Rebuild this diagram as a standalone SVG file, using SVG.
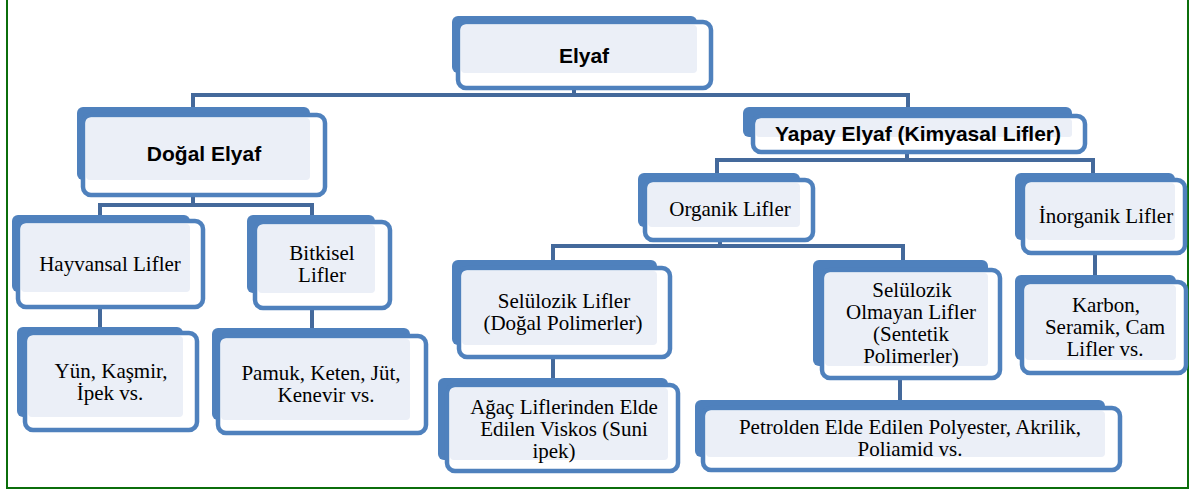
<svg xmlns="http://www.w3.org/2000/svg" width="1194" height="492" viewBox="0 0 1194 492">
<style>
.bk{fill:#4F81BD}
.fr{fill:#FFFFFF;stroke:#4F81BD;stroke-width:4.5}
.lt{fill:#EBEFF7}
.c{fill:none;stroke:#44699B;stroke-width:4}
.b{font-family:"Liberation Sans",Arial,sans-serif;font-weight:bold;font-size:21px;fill:#000;text-anchor:middle}
.s{font-family:"Liberation Serif","Times New Roman",serif;font-size:21px;fill:#000;text-anchor:middle}
</style>
<rect width="1194" height="492" fill="#FFFFFF"/>
<path d="M7,-2 V488 H1188 V-2" fill="none" stroke="#0B6E0B" stroke-width="2"/>
<g id="connectors">
<path class="c" d="M574,88 V95 M193,95 H908 M193,93 V107 M908,93 V107"/>
<path class="c" d="M193,195 V205 M100,205 H312 M100,203 V215 M312,203 V215"/>
<path class="c" d="M100,307 V327 M312,308 V328"/>
<path class="c" d="M907,152 V160 M717,160 H1093 M717,158 V173 M1093,158 V173"/>
<path class="c" d="M720,240 V246 M553,246 H903 M553,244 V260 M903,244 V260"/>
<path class="c" d="M553,357 V378 M900,378 V400 M1095,253 V275"/>
</g>
<g id="elyaf">
<rect class="bk" x="452" y="16" width="245" height="57" rx="6"/>
<rect class="fr" x="458" y="22" width="253" height="66" rx="8"/>
<rect class="lt" x="461" y="25" width="236" height="48" rx="4"/>
<text class="b" x="584" y="63">Elyaf</text>
</g>
<g id="dogal">
<rect class="bk" x="77" y="107" width="233" height="73" rx="6"/>
<rect class="fr" x="83" y="115" width="242" height="80" rx="8"/>
<rect class="lt" x="86" y="118" width="224" height="62" rx="4"/>
<text class="b" x="204" y="161">Doğal Elyaf</text>
</g>
<g id="hayvansal">
<rect class="bk" x="12" y="215" width="178" height="77" rx="6"/>
<rect class="fr" x="18" y="221" width="185" height="86" rx="8"/>
<rect class="lt" x="21" y="224" width="169" height="68" rx="4"/>
<text class="s" x="110" y="271">Hayvansal Lifler</text>
</g>
<g id="bitkisel">
<rect class="bk" x="247" y="215" width="128" height="78" rx="6"/>
<rect class="fr" x="255" y="222" width="135" height="86" rx="8"/>
<rect class="lt" x="258" y="225" width="117" height="68" rx="4"/>
<text class="s" x="322" y="260">Bitkisel</text>
<text class="s" x="322" y="282">Lifler</text>
</g>
<g id="yun">
<rect class="bk" x="17" y="327" width="166" height="90" rx="6"/>
<rect class="fr" x="25" y="333" width="172" height="97" rx="8"/>
<rect class="lt" x="28" y="336" width="155" height="81" rx="4"/>
<text class="s" x="111" y="378">Yün,  Kaşmir,</text>
<text class="s" x="110" y="400">İpek vs.</text>
</g>
<g id="pamuk">
<rect class="bk" x="212" y="328" width="198" height="92" rx="6"/>
<rect class="fr" x="218" y="336" width="208" height="97" rx="8"/>
<rect class="lt" x="221" y="339" width="189" height="81" rx="4"/>
<text class="s" x="321" y="380">Pamuk,  Keten, Jüt,</text>
<text class="s" x="326" y="402">Kenevir vs.</text>
</g>
<g id="yapay">
<rect class="bk" x="743" y="107" width="329" height="30" rx="6"/>
<rect class="fr" x="753" y="116" width="332" height="36" rx="8"/>
<rect class="lt" x="756" y="119" width="316" height="18" rx="3"/>
<text class="b" x="918" y="141">Yapay Elyaf (Kimyasal Lifler)</text>
</g>
<g id="organik">
<rect class="bk" x="638" y="173" width="162" height="54" rx="6"/>
<rect class="fr" x="645" y="180" width="168" height="60" rx="8"/>
<rect class="lt" x="648" y="183" width="152" height="44" rx="4"/>
<text class="s" x="730" y="216">Organik Lifler</text>
</g>
<g id="inorganik">
<rect class="bk" x="1015" y="173" width="160" height="67" rx="6"/>
<rect class="fr" x="1023" y="180" width="162" height="73" rx="8"/>
<rect class="lt" x="1026" y="183" width="149" height="57" rx="4"/>
<text class="s" x="1106" y="223">İnorganik Lifler</text>
</g>
<g id="selulozik">
<rect class="bk" x="452" y="260" width="205" height="85" rx="6"/>
<rect class="fr" x="459" y="268" width="211" height="89" rx="8"/>
<rect class="lt" x="462" y="271" width="195" height="74" rx="4"/>
<text class="s" x="564" y="308">Selülozik Lifler</text>
<text class="s" x="563" y="330">(Doğal Polimerler)</text>
</g>
<g id="selulozik-olmayan">
<rect class="bk" x="813" y="260" width="175" height="106" rx="6"/>
<rect class="fr" x="822" y="270" width="178" height="108" rx="8"/>
<rect class="lt" x="825" y="273" width="163" height="93" rx="4"/>
<text class="s" x="912" y="297">Selülozik</text>
<text class="s" x="911" y="319">Olmayan Lifler</text>
<text class="s" x="911" y="341">(Sentetik</text>
<text class="s" x="911" y="363">Polimerler)</text>
</g>
<g id="karbon">
<rect class="bk" x="1015" y="275" width="161" height="85" rx="6"/>
<rect class="fr" x="1022" y="282" width="164" height="91" rx="8"/>
<rect class="lt" x="1025" y="285" width="151" height="75" rx="4"/>
<text class="s" x="1106" y="312">Karbon,</text>
<text class="s" x="1105" y="334">Seramik,  Cam</text>
<text class="s" x="1105" y="356">Lifler vs.</text>
</g>
<g id="agac">
<rect class="bk" x="438" y="378" width="230" height="82" rx="6"/>
<rect class="fr" x="447" y="385" width="231" height="86" rx="8"/>
<rect class="lt" x="450" y="388" width="218" height="72" rx="4"/>
<text class="s" x="564" y="414">Ağaç Liflerinden Elde</text>
<text class="s" x="564" y="436">Edilen Viskos (Suni</text>
<text class="s" x="554" y="458">ipek)</text>
</g>
<g id="petrolden">
<rect class="bk" x="695" y="400" width="410" height="57" rx="6"/>
<rect class="fr" x="703" y="408" width="417" height="62" rx="8"/>
<rect class="lt" x="706" y="411" width="399" height="46" rx="4"/>
<text class="s" x="910" y="434">Petrolden Elde Edilen Polyester,  Akrilik,</text>
<text class="s" x="910" y="456">Poliamid vs.</text>
</g>
</svg>
